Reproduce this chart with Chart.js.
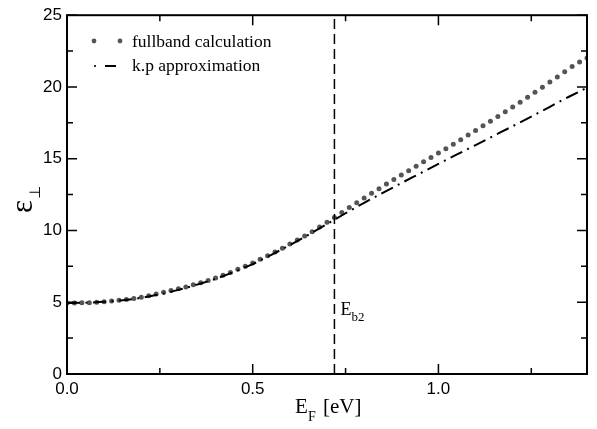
<!DOCTYPE html>
<html>
<head>
<meta charset="utf-8">
<script src="https://cdn.jsdelivr.net/npm/chart.js@4.4.1/dist/chart.umd.min.js"></script>
<style>
  body { margin: 0; background: #fff; }
  canvas { display: block; }
</style>
</head>
<body>
<canvas id="epsChart" width="597" height="429"></canvas>
<script>
// values
const fullbandE = [0.00, 0.02, 0.04, 0.06, 0.08, 0.10, 0.12, 0.14, 0.16, 0.18,
  0.20, 0.22, 0.24, 0.26, 0.28, 0.30, 0.32, 0.34, 0.36, 0.38,
  0.40, 0.42, 0.44, 0.46, 0.48, 0.50, 0.52, 0.54, 0.56, 0.58,
  0.60, 0.62, 0.64, 0.66, 0.68, 0.70, 0.72, 0.74, 0.76, 0.78,
  0.80, 0.82, 0.84, 0.86, 0.88, 0.90, 0.92, 0.94, 0.96, 0.98,
  1.00, 1.02, 1.04, 1.06, 1.08, 1.10, 1.12, 1.14, 1.16, 1.18,
  1.20, 1.22, 1.24, 1.26, 1.28, 1.30, 1.32, 1.34, 1.36, 1.38, 1.40];
const fullbandEps = [4.95, 4.95, 4.96, 4.97, 5.00, 5.04, 5.08, 5.13, 5.19, 5.26,
  5.35, 5.46, 5.57, 5.69, 5.81, 5.94, 6.07, 6.21, 6.36, 6.52,
  6.69, 6.88, 7.08, 7.29, 7.51, 7.74, 7.99, 8.24, 8.50, 8.77,
  9.05, 9.33, 9.62, 9.92, 10.24, 10.57, 10.90, 11.25, 11.60, 11.94,
  12.27, 12.59, 12.91, 13.23, 13.55, 13.86, 14.17, 14.48, 14.79, 15.09,
  15.39, 15.70, 16.01, 16.33, 16.65, 16.97, 17.29, 17.61, 17.94, 18.27,
  18.60, 18.94, 19.28, 19.63, 19.98, 20.34, 20.70, 21.06, 21.42, 21.74, 22.02];

const kpE = [0.00, 0.05, 0.10, 0.15, 0.20, 0.25, 0.30, 0.35, 0.40, 0.45,
  0.50, 0.55, 0.60, 0.65, 0.70, 0.75, 0.80, 0.85, 0.90, 0.95,
  1.00, 1.05, 1.10, 1.15, 1.20, 1.25, 1.30, 1.35, 1.40];
const kpEps = [4.95, 4.97, 5.03, 5.14, 5.31, 5.55, 5.86, 6.23, 6.63, 7.12,
  7.66, 8.30, 8.98, 9.70, 10.45, 11.20, 11.93, 12.62, 13.30, 13.97,
  14.64, 15.30, 15.95, 16.61, 17.27, 17.94, 18.62, 19.30, 19.95];

const eb2 = 0.72;

const xMajor = [0, 0.5, 1.0];
const xMinor = [0.25, 0.75, 1.25];
const yMajor = [0, 5, 10, 15, 20, 25];
const yMinor = [2.5, 7.5, 12.5, 17.5, 22.5];

const serif = '"Liberation Serif", "Times New Roman", serif';
const sans = '"Liberation Sans", Arial, sans-serif';

const toPoints = (xs, ys) => xs.map((x, i) => ({ x: x, y: ys[i] }));

// frame, inward ticks, titles and legend
const decorations = {
  id: 'decorations',
  afterDraw(chart) {
    const ctx = chart.ctx;
    const a = chart.chartArea;
    const xs = chart.scales.x;
    const ys = chart.scales.y;
    ctx.save();
    ctx.strokeStyle = '#000';
    ctx.lineWidth = 2;
    ctx.strokeRect(a.left, a.top, a.right - a.left, a.bottom - a.top);

    ctx.lineWidth = 1.5;
    const xTick = (v, len) => {
      const px = xs.getPixelForValue(v);
      ctx.beginPath();
      ctx.moveTo(px, a.bottom); ctx.lineTo(px, a.bottom - len);
      ctx.moveTo(px, a.top); ctx.lineTo(px, a.top + len);
      ctx.stroke();
    };
    const yTick = (v, len) => {
      const py = ys.getPixelForValue(v);
      ctx.beginPath();
      ctx.moveTo(a.left, py); ctx.lineTo(a.left + len, py);
      ctx.moveTo(a.right, py); ctx.lineTo(a.right - len, py);
      ctx.stroke();
    };
    xMajor.forEach(v => xTick(v, 10));
    xMinor.forEach(v => xTick(v, 6));
    yMajor.forEach(v => yTick(v, 10));
    yMinor.forEach(v => yTick(v, 6));

    ctx.fillStyle = '#000';
    ctx.textBaseline = 'alphabetic';
    ctx.textAlign = 'left';

    // x title: E_F [eV]
    ctx.font = '21px ' + serif;
    ctx.fillText('E', 295, 413);
    ctx.font = '14px ' + serif;
    ctx.fillText('F', 308, 421);
    ctx.font = '21px ' + serif;
    ctx.fillText('[eV]', 323, 413);

    // y title: epsilon perp, rotated
    ctx.save();
    ctx.translate(32, 213);
    ctx.rotate(-Math.PI / 2);
    ctx.font = '31px ' + serif;
    ctx.fillText('\u03b5', 0, 0);
    const w = ctx.measureText('\u03b5').width;
    ctx.font = '15px "DejaVu Sans", sans-serif';
    ctx.fillText('\u22a5', w + 1, 8);
    ctx.restore();

    // E_b2 label next to the dashed line
    const lx = xs.getPixelForValue(eb2) + 6;
    ctx.font = '18px ' + serif;
    ctx.fillText('E', lx, 315);
    ctx.font = '13px ' + serif;
    ctx.fillText('b2', lx + 11, 321);

    // legend
    ctx.fillStyle = '#555';
    [94, 120].forEach(x => {
      ctx.beginPath(); ctx.arc(x, 41, 2.4, 0, Math.PI * 2); ctx.fill();
    });
    ctx.fillStyle = '#000';
    ctx.beginPath(); ctx.arc(95, 66, 1.1, 0, Math.PI * 2); ctx.fill();
    ctx.lineWidth = 2;
    ctx.beginPath(); ctx.moveTo(105, 66); ctx.lineTo(116, 66); ctx.stroke();
    ctx.font = '17.5px ' + serif;
    ctx.fillText('fullband calculation', 132, 47);
    ctx.fillText('k.p approximation', 132, 71);
    ctx.restore();
  }
};

new Chart(document.getElementById('epsChart'), {
  type: 'scatter',
  data: {
    datasets: [
      {
        label: 'Eb2',
        data: toPoints([eb2, eb2], [0, 25]),
        showLine: true,
        borderColor: '#000',
        borderWidth: 1.5,
        borderDash: [10, 5],
        pointRadius: 0
      },
      {
        label: 'k.p approximation',
        data: toPoints(kpE, kpEps),
        showLine: true,
        borderColor: '#000',
        borderWidth: 2,
        borderDash: [13, 5.5, 2, 5.5],
        cubicInterpolationMode: 'monotone',
        pointRadius: 0
      },
      {
        label: 'fullband calculation',
        data: toPoints(fullbandE, fullbandEps),
        showLine: false,
        pointRadius: 2.5,
        pointBorderWidth: 0,
        pointBackgroundColor: '#555'
      }
    ]
  },
  options: {
    responsive: false,
    animation: false,
    layout: { padding: { top: 10, right: 10, left: 0, bottom: 0 } },
    plugins: { legend: { display: false }, tooltip: { enabled: false } },
    scales: {
      x: {
        type: 'linear',
        min: 0,
        max: 1.4,
        grid: { display: false, drawTicks: false },
        border: { display: false },
        afterBuildTicks: s => { s.ticks = xMajor.map(v => ({ value: v })); },
        afterFit: s => { s.height = 55; },
        ticks: {
          padding: 5,
          color: '#000',
          font: { family: sans, size: 17 },
          maxRotation: 0,
          callback: v => Number(v).toFixed(1)
        }
      },
      y: {
        min: 0,
        max: 25,
        grid: { display: false, drawTicks: false },
        border: { display: false },
        afterBuildTicks: s => { s.ticks = yMajor.map(v => ({ value: v })); },
        afterFit: s => { s.width = 67; },
        ticks: {
          padding: 5,
          color: '#000',
          font: { family: sans, size: 17 },
          callback: v => String(v)
        }
      }
    }
  },
  plugins: [decorations]
});
</script>
</body>
</html>
